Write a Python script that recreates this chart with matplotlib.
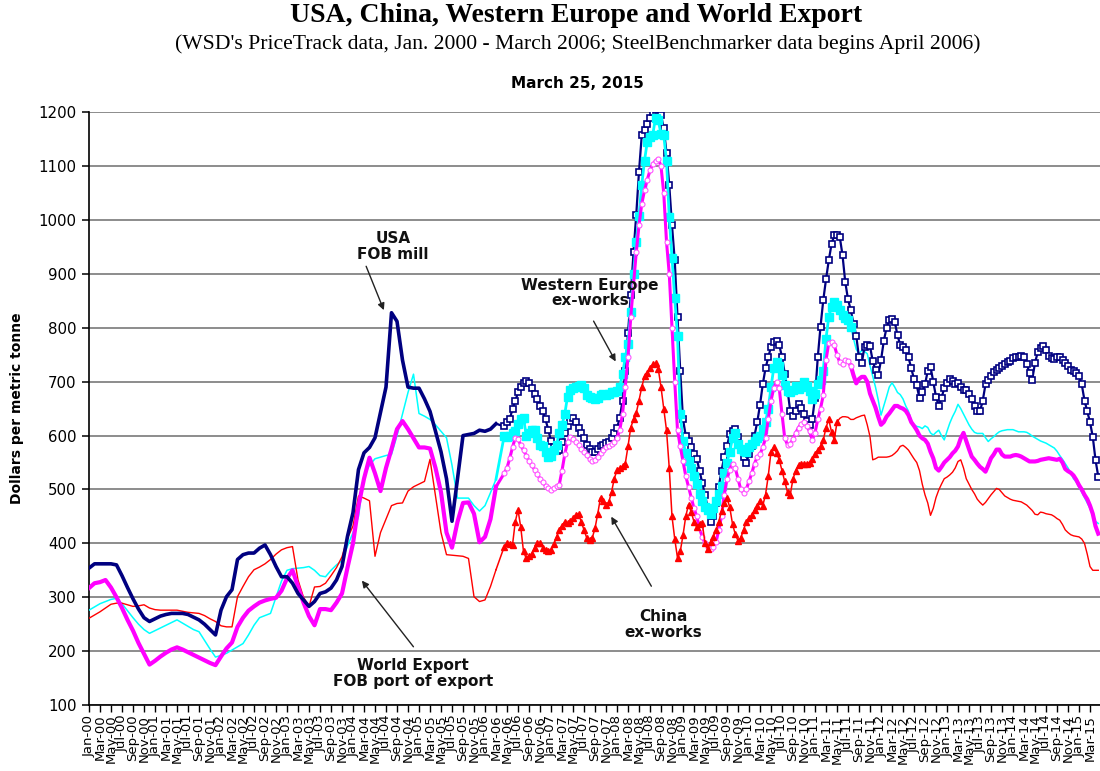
import numpy as np
import matplotlib
matplotlib.use("Agg")
import matplotlib.pyplot as plt

# WSD PriceTrack, monthly Jan 2000 - Mar 2006 ($/tonne)
usa_wsd = [354, 362, 362, 362, 362, 360, 340, 318, 297, 278, 262, 255,
           260, 265, 268, 270, 270, 270, 268, 263, 258, 250, 240, 230,
           276, 301, 314, 370, 379, 382, 382, 391, 397, 379, 357, 338,
           338, 326, 307, 295, 283, 292, 307, 310, 317, 332, 357, 413,
           457, 537, 568, 578, 596, 643, 690, 828, 812, 740, 690, 688,
           688, 668, 645, 608, 570, 520, 441, 520, 600, 602, 604, 610,
           608, 612, 622]
weur_wsd = [276, 282, 288, 292, 296, 298, 288, 275, 262, 250, 240, 233,
            238, 243, 248, 253, 258, 252, 246, 240, 236, 220, 204, 189,
            192, 196, 202, 208, 214, 230, 248, 262, 266, 270, 300, 330,
            350, 353, 354, 355, 357, 350, 340, 338, 350, 360, 368, 395,
            420, 450, 525, 545, 557, 560, 563, 565, 600, 640, 680, 714,
            641, 636, 630, 620, 608, 596, 545, 484, 484, 484, 470, 460,
            470, 494, 519]
world_wsd = [317, 326, 328, 332, 318, 300, 280, 258, 238, 215, 195, 175,
             182, 190, 197, 203, 207, 203, 198, 193, 188, 183, 178, 174,
             190, 205, 216, 245, 262, 275, 283, 290, 294, 297, 299, 312,
             335, 350, 320, 290, 265, 248, 278, 278, 276, 290, 307, 355,
             400, 470, 520, 559, 530, 497, 540, 575, 612, 627, 612, 595,
             578, 578, 576, 540, 495, 420, 392, 440, 475, 476, 455, 402,
             412, 445, 505]
china_wsd = [261, 267, 273, 280, 287, 289, 289, 286, 283, 284, 286, 280,
             277, 276, 276, 276, 276, 274, 272, 271, 270, 266, 260, 255,
             247, 245, 245, 301, 320, 338, 351, 356, 362, 370, 380, 388,
             392, 394, 332, 300, 283, 319, 320, 326, 340, 355, 375, 410,
             432, 488, 484, 479, 376, 420, 445, 470, 474, 475, 497, 505,
             510, 515, 556, 488, 420, 379, 378, 377, 376, 372, 301, 292,
             295, 320, 351]

# SteelBenchmarker, twice monthly from April 2006
usa_sbb = [617, 625, 630, 650, 664, 680, 690, 697, 701, 698, 689, 678,
           668, 655, 645, 630, 611, 590, 578, 571, 573, 589, 605, 618,
           627, 633, 626, 615, 604, 596, 583, 575, 570, 570, 575, 580,
           583, 586, 589, 595, 605, 615, 632, 665, 720, 790, 860, 940,
           1010, 1090, 1157, 1168, 1178, 1190, 1200, 1204, 1207, 1195, 1170, 1125,
           1065, 990, 925, 820, 720, 630, 600, 590, 578, 566, 557, 535,
           512, 490, 465, 440, 450, 475, 505, 535, 560, 580, 603, 608,
           612, 598, 575, 560, 550, 565, 580, 600, 625, 657, 695, 725,
           745, 765, 773, 775, 768, 746, 715, 685, 645, 636, 645, 659,
           652, 640, 628, 619, 630, 670, 745, 802, 851, 890, 925, 955,
           972, 972, 969, 935, 885, 853, 833, 808, 785, 745, 734, 765,
           768, 766, 738, 722, 712, 740, 775, 800, 815, 817, 811, 786,
           768, 765, 758, 745, 725, 705, 693, 669, 681, 695, 720, 728,
           700, 672, 655, 670, 688, 697, 705, 701, 695, 697, 690, 685,
           685, 678, 668, 655, 645, 645, 665, 695, 703, 710, 718, 722,
           725, 729, 733, 736, 739, 744, 746, 746, 747, 745, 733, 716,
           704, 735, 755, 762, 766, 758, 748, 744, 742, 746, 746, 741,
           734, 729, 722, 719, 716, 710, 695, 665, 645, 625, 598, 555,
           524]
weur_sbb = [600, 598, 599, 604, 608, 622, 630, 633, 600, 605, 611, 611,
            595, 583, 580, 570, 560, 562, 573, 583, 605, 620, 640, 672,
            684, 689, 690, 692, 694, 688, 676, 671, 669, 667, 670, 675,
            677, 676, 678, 680, 681, 683, 690, 714, 745, 770, 830, 900,
            960, 1008, 1065, 1110, 1145, 1155, 1158, 1190, 1185, 1160, 1157, 1110,
            1005, 930, 855, 785, 640, 590, 567, 552, 540, 525, 510, 492,
            478, 468, 462, 455, 465, 478, 492, 506, 530, 550, 570, 595,
            605, 585, 576, 572, 570, 578, 585, 590, 595, 600, 612, 625,
            650, 690, 725, 737, 730, 712, 693, 683, 681, 684, 692, 686,
            690, 700, 692, 682, 668, 678, 695, 703, 720, 780, 820, 839,
            848, 842, 833, 824, 818, 814, 802, 780, 760, 752, 758, 756,
            752, 730, 710, 690, 666, 638, 655, 672, 690, 698, 690, 680,
            676, 668, 655, 645, 628, 620, 617, 616, 613, 618, 615, 605,
            601, 606, 610, 600, 592, 608, 623, 635, 645, 658, 650, 640,
            630, 620, 612, 606, 604, 604, 604, 596, 589, 594, 598, 603,
            607, 609, 610, 611, 611, 611, 609, 607, 607, 607, 606, 603,
            599, 596, 593, 590, 588, 586, 583, 580, 577, 571, 563, 556,
            548, 540, 530, 520, 514, 504, 495, 485, 475, 465, 452, 441,
            437]
world_sbb = [530, 540, 558, 578, 596, 594, 582, 573, 563, 553, 545, 537,
             528, 520, 513, 507, 502, 499, 502, 506, 509, 535, 565, 588,
             597, 593, 588, 583, 576, 570, 564, 557, 553, 555, 561, 568,
             574, 578, 581, 584, 588, 596, 610, 640, 690, 745, 820, 880,
             940, 990, 1030, 1055, 1075, 1092, 1104, 1110, 1114, 1100, 1050, 960,
             900, 800, 700, 610, 580, 552, 525, 505, 485, 465, 450, 428,
             412, 400, 394, 390, 393, 402, 425, 450, 490, 520, 537, 548,
             540, 520, 500, 494, 500, 515, 530, 548, 560, 565, 578, 595,
             630, 665, 688, 700, 688, 640, 595, 583, 585, 593, 605, 615,
             622, 625, 618, 608, 592, 605, 630, 650, 675, 740, 772, 774,
             768, 750, 736, 733, 740, 738, 730, 712, 697, 705, 709, 709,
             700, 678, 665, 652, 635, 620, 625, 635, 641, 648, 655, 655,
             652, 650, 646, 638, 625, 618, 610, 600, 595, 592, 585, 570,
             558, 540, 535, 542, 550, 555, 560, 567, 572, 580, 595, 605,
             590, 575, 561, 555, 548, 542, 538, 533, 545, 558, 565, 574,
             574, 565, 561, 561, 561, 563, 564, 563, 561, 558, 555, 552,
             552, 552, 553, 555, 556, 557, 558, 557, 556, 555, 557, 550,
             538, 534, 531, 526, 518, 508, 500, 490, 482, 470, 455, 432,
             418]
china_sbb = [394, 400, 399, 397, 440, 462, 430, 385, 372, 376, 381, 392,
             400, 400, 392, 387, 386, 388, 398, 412, 425, 433, 440, 438,
             441, 447, 453, 455, 440, 425, 410, 406, 410, 428, 455, 485,
             478, 472, 476, 495, 520, 536, 540, 543, 548, 580, 615, 630,
             642, 665, 690, 710, 717, 725, 732, 734, 724, 690, 650, 610,
             540, 450, 408, 373, 385, 415, 450, 472, 458, 440, 430, 436,
             438, 400, 389, 402, 412, 424, 440, 460, 475, 484, 467, 436,
             417, 405, 410, 425, 440, 447, 452, 462, 470, 478, 470, 490,
             525, 570, 578, 568, 555, 535, 515, 495, 490, 520, 535, 545,
             548, 548, 548, 550, 556, 565, 573, 580, 591, 615, 630, 607,
             592, 625, 632, 635, 635, 634, 630, 630, 633, 635, 637, 638,
             620, 598, 555, 557, 560, 560, 560, 560, 561, 563, 567, 572,
             580, 582, 578, 573, 565, 557, 550, 535, 510, 490, 475, 452,
             465, 485, 499, 510, 520, 523, 527, 532, 540, 552, 555, 540,
             520, 510, 500, 492, 482, 476, 471, 476, 483, 490, 496, 502,
             500, 494, 488, 485, 482, 480, 479, 478, 477, 474, 471, 466,
             461, 454, 453, 458, 457, 455, 454, 453, 450, 446, 443, 435,
             425, 420, 416, 414, 413, 412, 408, 400, 380, 357, 350, 350,
             350]

# points shown with markers before the later data switch to plain lines
weur_marked = 127
world_marked = 127
china_marked = 122

months = ['Jan', 'Mar', 'May', 'Jul', 'Sep', 'Nov']

NAVY, CYAN, MAGENTA, RED = '#000080', '#00FFFF', '#FF00FF', '#FF0000'

m_wsd = np.arange(len(usa_wsd), dtype=float)
m_sbb = 75.5 + np.arange(len(usa_sbb)) / 2.0

fig = plt.figure(figsize=(11, 7.71), dpi=100)
ax = fig.add_axes([89 / 1100, 1 - 705 / 771, 1 - 89 / 1100, (705 - 112.3) / 771])

# early monthly WSD lines
ax.plot(m_wsd, weur_wsd, color=CYAN, lw=1.1, zorder=3)
ax.plot(m_wsd, china_wsd, color=RED, lw=1.0, zorder=3)
ax.plot(m_wsd, world_wsd, color=MAGENTA, lw=3.0, zorder=4)
ax.plot(m_wsd, usa_wsd, color=NAVY, lw=2.6, zorder=5)


def sbb(vals, wsd):
    x = np.r_[m_wsd[-1], m_sbb[:len(vals)]]
    y = np.r_[wsd[-1], vals]
    return x, y


x, y = sbb(usa_sbb, usa_wsd)
ax.plot(x, y, color=NAVY, lw=1.6, marker='s', ms=5, mfc='white', mec=NAVY,
        mew=1.2, markevery=slice(1, None), zorder=5)

x, y = sbb(weur_sbb, weur_wsd)
n = weur_marked + 1
ax.plot(x[:n], y[:n], color=CYAN, lw=2.0, marker='s', ms=5.5, mfc=CYAN, mec=CYAN,
        markevery=slice(1, None), zorder=6)
ax.plot(x[n - 1:], y[n - 1:], color=CYAN, lw=1.1, zorder=3)

x, y = sbb(world_sbb, world_wsd)
n = world_marked + 1
ax.plot(x[:n], y[:n], color=MAGENTA, lw=2.2, marker='o', ms=3.6, mfc='white',
        mec='#FF55FF', mew=0.8, markevery=slice(1, None), zorder=7)
ax.plot(x[n - 1:], y[n - 1:], color=MAGENTA, lw=3.0, zorder=4)

x, y = sbb(china_sbb, china_wsd)
n = china_marked + 1
ax.plot(x[:n], y[:n], color=RED, lw=1.1, marker='^', ms=5, mfc=RED, mec=RED,
        markevery=slice(1, None), zorder=8)
ax.plot(x[n - 1:], y[n - 1:], color=RED, lw=1.0, zorder=3)

# axes styling
ax.set_ylim(100, 1200)
ax.set_xlim(0, (1100 - 89) / 5.5)
ax.set_yticks(np.arange(100, 1201, 100))
ax.yaxis.grid(True, color='#8C8C8C', lw=1.4)
ax.set_axisbelow(True)
for s in ('top', 'right'):
    ax.spines[s].set_visible(False)
ax.spines['left'].set_linewidth(1.2)
ax.spines['bottom'].set_linewidth(1.2)
ax.tick_params(axis='y', direction='out', length=5, width=1.1, labelsize=10.8, pad=4)

ticks = np.arange(0, 183, 2)
labels = [f"{months[(t % 12) // 2]}-{(t // 12) % 100:02d}" for t in ticks]
ax.set_xticks(ticks)
ax.set_xticklabels(labels, rotation=90, fontsize=9.5)
ax.tick_params(axis='x', direction='out', length=5, width=1.0, pad=2)

ax.set_ylabel('Dollars per metric tonne', fontsize=10, fontweight='bold', labelpad=10)

# titles
fig.text(576 / 1100, 1 - 15 / 771, 'USA, China, Western Europe and World Export',
         family='Liberation Serif', fontweight='bold', fontsize=20, ha='center', va='center')
fig.text(578 / 1100, 1 - 44 / 771,
         "(WSD's PriceTrack data, Jan. 2000 - March 2006; SteelBenchmarker data begins April 2006)",
         family='Liberation Serif', fontsize=15.6, ha='center', va='center')
fig.text(577 / 1100, 1 - 84 / 771, 'March 25, 2015', fontweight='bold', fontsize=11,
         ha='center', va='center')

arrow = dict(arrowstyle='-|>', color='#222222', lw=1.0, mutation_scale=10)
notes = [
    ('USA\nFOB mill', (55.3, 951), (50.2, 919), (53.8, 828)),
    ('Western Europe\nex-works', (91.1, 865), (91.5, 817), (96.0, 733)),
    ('China\nex-works', (104.4, 249), (102.5, 316), (94.7, 454)),
    ('World Export\nFOB port of export', (58.9, 158), (59.3, 204), (49.3, 335)),
]
for txt, pos, tail, head in notes:
    ax.text(pos[0], pos[1], txt, ha='center', va='center', fontsize=11,
            fontweight='bold', color='#111111', linespacing=1.05, zorder=10)
    ax.annotate('', xy=head, xytext=tail, arrowprops=arrow, zorder=10)

fig.savefig('out.png', dpi=100)
